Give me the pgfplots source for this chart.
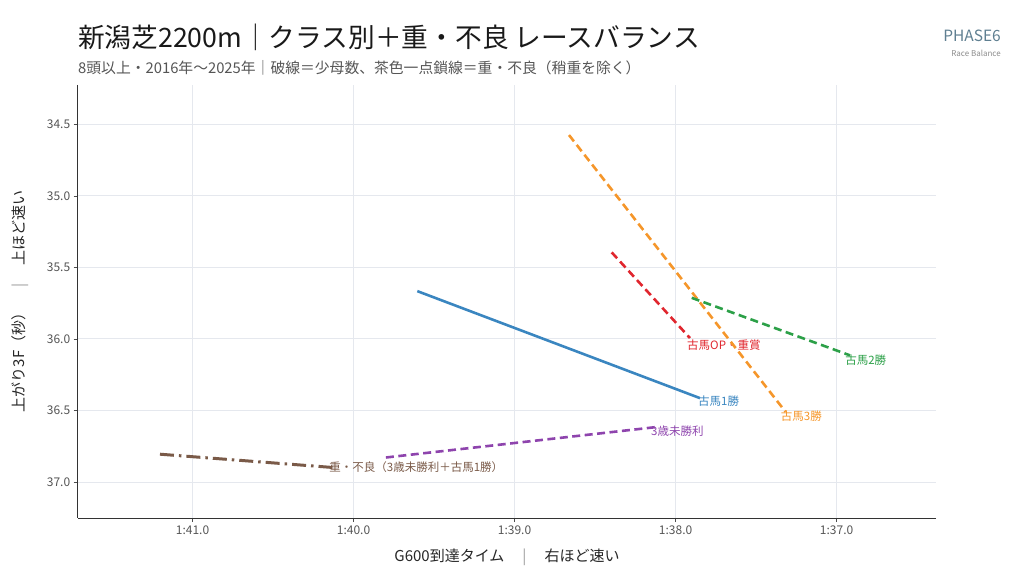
\documentclass[border=0pt]{standalone}
\usepackage{pgfplots}
\pgfplotsset{compat=1.18}
\usepackage{fontspec}
\setmainfont{Noto Sans CJK JP}
\definecolor{cblue}{HTML}{3A86C0}
\definecolor{cred}{HTML}{E0262E}
\definecolor{corange}{HTML}{F5962A}
\definecolor{cgreen}{HTML}{2CA048}
\definecolor{cpurple}{HTML}{8E44AD}
\definecolor{cbrown}{HTML}{7A5A48}
\definecolor{cgrid}{HTML}{E5E8EE}
\definecolor{ctick}{HTML}{555555}
\definecolor{cslate}{HTML}{5F7F91}
\begin{document}
\begin{tikzpicture}[x=1bp,y=1bp]
\path[use as bounding box] (0,0) rectangle (1024,579);
\begin{axis}[
  at={(77.7bp,61bp)}, anchor=south west,
  scale only axis, width=858.3bp, height=433bp,
  x dir=reverse, y dir=reverse,
  xmin=96.383, xmax=101.713, ymin=34.225, ymax=37.252,
  axis x line*=bottom, axis y line*=left,
  axis line style={draw=black!80, line width=0.8bp},
  xtick={97,98,99,100,101},
  xticklabels={1:37.0,1:38.0,1:39.0,1:40.0,1:41.0},
  ytick={34.5,35,35.5,36,36.5,37},
  yticklabel style={/pgf/number format/.cd, fixed, fixed zerofill, precision=1},
  /pgf/number format/assume math mode=true,
  tick label style={font=\fontsize{12bp}{14bp}\selectfont, text=ctick},
  tick align=outside, major tick length=4bp,
  tick style={draw=black!70, line width=0.6bp},
  grid=major, major grid style={draw=cgrid, line width=0.9bp},
  clip=false,
]
\addplot[cblue, line width=2.6bp] coordinates {(99.604,35.666) (97.849,36.414)}
  node[pos=1, anchor=west, xshift=-3bp, yshift=-3bp, font=\fontsize{11.5bp}{13bp}\selectfont, text=cblue, inner sep=0pt] {古馬1勝};
\addplot[cred, line width=2.6bp, dash pattern=on 8bp off 4.5bp] coordinates {(98.397,35.395) (97.911,35.994)}
  node[pos=1, anchor=west, xshift=-4bp, yshift=-7bp, font=\fontsize{11.5bp}{13bp}\selectfont, text=cred, inner sep=0pt] {古馬OP・重賞};
\addplot[corange, line width=2.6bp, dash pattern=on 8bp off 4.5bp] coordinates {(98.662,34.575) (97.317,36.510)}
  node[pos=1, anchor=west, xshift=-6bp, yshift=-4bp, font=\fontsize{11.5bp}{13bp}\selectfont, text=corange, inner sep=0pt] {古馬3勝};
\addplot[cgreen, line width=2.6bp, dash pattern=on 8bp off 4.5bp] coordinates {(97.900,35.713) (96.917,36.115)}
  node[pos=1, anchor=west, xshift=-6bp, yshift=-5bp, font=\fontsize{11.5bp}{13bp}\selectfont, text=cgreen, inner sep=0pt] {古馬2勝};
\addplot[cpurple, line width=2.6bp, dash pattern=on 8bp off 4.5bp] coordinates {(99.799,36.829) (98.110,36.615)}
  node[pos=1, anchor=west, xshift=-8bp, yshift=-4bp, font=\fontsize{11.5bp}{13bp}\selectfont, text=cpurple, inner sep=0pt] {3歳未勝利};
\addplot[cbrown, line width=3bp, dash pattern=on 14bp off 5bp on 2.5bp off 5bp] coordinates {(101.202,36.806) (100.128,36.899)}
  node[pos=1, anchor=west, xshift=-5bp, yshift=0bp, font=\fontsize{11.5bp}{13bp}\selectfont, text=cbrown, inner sep=0pt] {重・不良（3歳未勝利＋古馬1勝）};
\end{axis}
% titles
\node[anchor=base west, inner sep=0pt, font=\fontsize{26.7bp}{30bp}\selectfont, text=black!90] at (78,531.5) {新潟芝2200m｜クラス別＋重・不良 レースバランス};
\node[anchor=base west, inner sep=0pt, font=\fontsize{14.8bp}{17bp}\selectfont, text=ctick] at (78,505.5) {8頭以上・2016年～2025年｜破線＝少母数、茶色一点鎖線＝重・不良（稍重を除く）};
\node[anchor=base east, inner sep=0pt, font=\fontsize{15.5bp}{18bp}\selectfont, text=cslate] at (1001,537.3) {PHASE6};
\node[anchor=base east, inner sep=0pt, font=\fontsize{8bp}{9bp}\selectfont, text=black!45] at (1001,522) {Race Balance};
% axis labels
\node[anchor=center, inner sep=0pt, font=\fontsize{15bp}{17bp}\selectfont, text=black!85] at (507,22) {G600到達タイム\hspace{1.2em}{\color{black!40}|}\hspace{1.2em}右ほど速い};
\node[anchor=center, rotate=90, inner sep=0pt, font=\fontsize{15bp}{17bp}\selectfont, text=black!85] at (20,277.5) {上がり3F（秒）\hspace{1.2em}{\color{black!40}|}\hspace{1.2em}上ほど速い};
\end{tikzpicture}
\end{document}
